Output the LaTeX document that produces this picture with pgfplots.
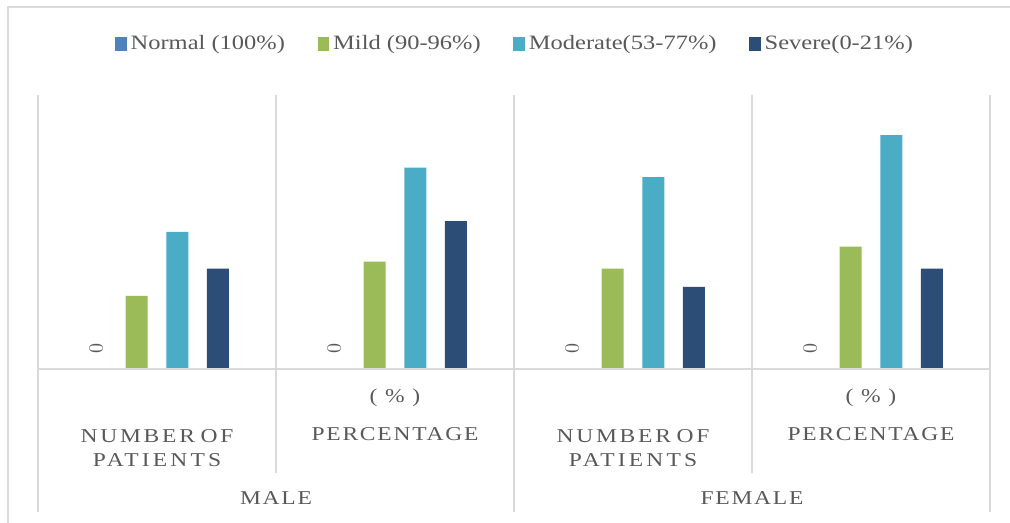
\documentclass[border=0pt]{standalone}
\usepackage{fontspec}
\setmainfont{Liberation Serif}[FakeStretch=1.2]
\usepackage{pgfplots}
\pgfplotsset{compat=1.18}

\definecolor{cNormal}{HTML}{4F81BD}
\definecolor{cMild}{HTML}{9BBB59}
\definecolor{cModerate}{HTML}{4BACC6}
\definecolor{cSevere}{HTML}{2C4D75}
\definecolor{gridgray}{HTML}{D9D9D9}
\definecolor{txtgray}{HTML}{595959}

\newcommand\catfont[1]{\fontsize{9.8}{11.5}\selectfont\addfontfeature{LetterSpace=#1}\color{txtgray}}

\begin{document}
\begin{tikzpicture}
\useasboundingbox (-19pt,-77pt) rectangle (486pt,184.5pt);
% chart frame
\draw[gridgray, line width=0.75pt] (-15pt,-80pt) -- (-15pt,181pt) -- (490pt,181pt);
\begin{axis}[
  at={(0,0)}, anchor=origin,
  scale only axis,
  width=476pt, height=137pt,
  xmin=0, xmax=4, ymin=0, ymax=60,
  axis lines=none,
  clip=false,
  bar width=11pt,
  legend columns=4,
  legend image code/.code={\fill[#1, draw=none] (0pt,-3.4pt) rectangle (5.8pt,3.4pt);},
  legend style={draw=none, fill=none, at={(0.5,1)}, anchor=center, xshift=1pt, yshift=25.5pt,
    font=\fontsize{10.2}{12}\selectfont, text=txtgray,
    nodes={inner xsep=2pt},
    /tikz/every even column/.append style={column sep=14.3pt}},
]
% Normal (all zero, labelled)
\addplot[ybar, bar shift=0pt, fill=cNormal, draw=none,
  nodes near coords,
  every node near coord/.append style={anchor=center, yshift=10pt, rotate=90,
    font=\fontsize{10}{12}\selectfont, text=txtgray}]
  coordinates {(0.244,0) (1.244,0) (2.244,0) (3.244,0)};
\addlegendentry{Normal (100\%)}
% Mild
\addplot[ybar, bar shift=0pt, fill=cMild, draw=none]
  coordinates {(0.414,16) (1.414,23.5) (2.414,22) (3.414,26.8)};
\addlegendentry{Mild (90-96\%)}
% Moderate
\addplot[ybar, bar shift=0pt, fill=cModerate, draw=none]
  coordinates {(0.586,30) (1.586,44.1) (2.586,42) (3.586,51.2)};
\addlegendentry{Moderate(53-77\%)}
% Severe
\addplot[ybar, bar shift=0pt, fill=cSevere, draw=none]
  coordinates {(0.756,22) (1.756,32.4) (2.756,18) (3.756,22)};
\addlegendentry{Severe(0-21\%)}

% category grid lines
\draw[gridgray, line width=0.75pt] (axis cs:0,0) -- (axis cs:4,0);
\draw[gridgray, line width=0.75pt] (axis cs:0,60) -- ([yshift=-71.5pt]axis cs:0,0);
\draw[gridgray, line width=0.75pt] (axis cs:2,60) -- ([yshift=-71.5pt]axis cs:2,0);
\draw[gridgray, line width=0.75pt] (axis cs:4,60) -- ([yshift=-71.5pt]axis cs:4,0);
\draw[gridgray, line width=0.75pt] (axis cs:1,60) -- ([yshift=-52pt]axis cs:1,0);
\draw[gridgray, line width=0.75pt] (axis cs:3,60) -- ([yshift=-52pt]axis cs:3,0);

% first level labels
\node[font=\catfont{14}] at ([yshift=-33.5pt]axis cs:0.5,0) {NUMBER\kern-1.5pt\ OF};
\node[font=\catfont{16}] at ([yshift=-45.5pt]axis cs:0.5,0) {PATIENTS};
\node[font=\catfont{14}] at ([yshift=-33.5pt]axis cs:2.5,0) {NUMBER\kern-1.5pt\ OF};
\node[font=\catfont{16}] at ([yshift=-45.5pt]axis cs:2.5,0) {PATIENTS};
\node[font=\catfont{9}] at ([yshift=-14.5pt]axis cs:1.5,0) {( \% )};
\node[font=\catfont{9}] at ([yshift=-32.5pt]axis cs:1.5,0) {PERCENTAGE};
\node[font=\catfont{9}] at ([yshift=-14.5pt]axis cs:3.5,0) {( \% )};
\node[font=\catfont{9}] at ([yshift=-32.5pt]axis cs:3.5,0) {PERCENTAGE};
% second level labels
\node[font=\catfont{9}] at ([yshift=-64.5pt]axis cs:1,0) {MALE};
\node[font=\catfont{9}] at ([yshift=-64.5pt]axis cs:3,0) {FEMALE};
\end{axis}
\end{tikzpicture}
\end{document}
